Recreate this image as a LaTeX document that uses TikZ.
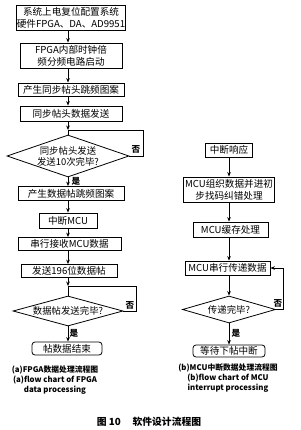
\documentclass[tikz,border=0pt]{standalone}
\usepackage{fontspec}
\newfontfamily\cjk{Noto Sans CJK SC}
\usetikzlibrary{shapes.geometric,arrows.meta}
\begin{document}
\begin{tikzpicture}[x=1pt,y=-1pt,
  box/.style={draw,line width=0.8pt,inner sep=0pt,align=center,
    font=\cjk\fontsize{9.6}{12}\selectfont},
  term/.style={box,rounded corners=3pt},
  dia/.style={draw,line width=0.8pt,diamond,inner sep=0pt,align=center,
    font=\cjk\fontsize{9.4}{11}\selectfont},
  arr/.style={-{Stealth[length=4.5pt,width=3.6pt]},line width=0.8pt},
  ln/.style={line width=0.8pt},
  lab/.style={font=\cjk\bfseries\fontsize{8.6}{10}\selectfont,inner sep=0pt},
  capt/.style={font=\cjk\bfseries\fontsize{7.8}{10}\selectfont,align=center,inner sep=0pt}
]
\useasboundingbox (0,0) rectangle (300,430);
\fill[white] (0,0) rectangle (300,430);
\coordinate (cl) at (68,0);
\coordinate (cr) at (229,0);
% ---------- left column ----------
\node[box,minimum width=104pt,minimum height=25pt] (b1) at (71,17.5) {系统上电复位配置系统\\硬件FPGA、DA、AD9951};
\node[box,minimum width=102pt,minimum height=25pt] (b2) at (71,55.5) {FPGA内部时钟倍\\频分频电路启动};
\node[box,minimum width=106pt,minimum height=13pt] (b3) at (71,89.5) {产生同步帖头跳频图案};
\node[box,minimum width=102pt,minimum height=15pt] (b4) at (71,113.5) {同步帖头数据发送};
\coordinate (m1) at (68,130);
\node[dia,minimum width=122pt,minimum height=42pt,aspect=2.9] (d1) at (68,156) {同步帖头发送\\发送10次完毕?};
\node[box,minimum width=106pt,minimum height=14pt] (b5) at (71,193.5) {产生数据帖跳频图案};
\node[box,minimum width=58pt,minimum height=15pt] (b6) at (68,220.5) {中断MCU};
\node[box,minimum width=103pt,minimum height=13pt] (b7) at (69.5,244) {串行接收MCU数据};
\node[box,minimum width=96pt,minimum height=13pt] (b8) at (69,271) {发送196位数据帖};
\coordinate (m2) at (68,286);
\node[dia,minimum width=110pt,minimum height=30pt,aspect=3.6] (d2) at (68,311) {数据帖发送完毕?};
\node[term,minimum width=70pt,minimum height=13pt] (t1) at (67,348.5) {帖数据结束};

\draw[arr] (b1.south -| cl) -- (b2.north -| cl);
\draw[arr] (b2.south -| cl) -- (b3.north -| cl);
\draw[arr] (b3.south -| cl) -- (b4.north -| cl);
\draw[arr] (b4.south -| cl) -- (m1);
\draw[ln] (m1) -- (d1.north);
\draw[ln] (d1.east) -- (143,156) -- (143,130) -- (m1);
\draw[arr] (d1.south) -- (b5.north -| cl);
\draw[arr] (b5.south -| cl) -- (b6.north);
\draw[arr] (b6.south) -- (b7.north -| cl);
\draw[arr] (b7.south -| cl) -- (b8.north -| cl);
\draw[arr] (b8.south -| cl) -- (m2);
\draw[ln] (m2) -- (d2.north);
\draw[ln] (d2.east) -- (136,311) -- (136,286) -- (m2);
\draw[arr] (d2.south) -- (t1.north -| cl);
\node[lab] (y1) at (76,181) {是};
\node[lab] (n1) at (136,149) {否};
\node[lab] (y2) at (74,333) {是};
\node[lab] (n2) at (130,305) {否};

\node[capt] (ca) at (55,380) {(a)FPGA数据处理流程图\\(a)flow chart of FPGA\\data processing};

% ---------- right column ----------
\node[box,minimum width=47pt,minimum height=14pt] (r1) at (229,150) {中断响应};
\node[box,minimum width=91pt,minimum height=25pt] (r2) at (229,189.5) {MCU组织数据并进初\\步找码纠错处理};
\node[box,minimum width=75pt,minimum height=15pt] (r3) at (230.5,229.5) {MCU缓存处理};
\node[box,minimum width=85pt,minimum height=14pt] (r4) at (227.5,268) {MCU串行传递数据};
\node[dia,minimum width=93pt,minimum height=27pt,aspect=3.4] (d3) at (229,309.5) {传递完毕?};
\node[term,minimum width=72pt,minimum height=12pt] (t2) at (229,351) {等待下帖中断};

\draw[arr] (r1.south) -- (r2.north);
\draw[arr] (r2.south) -- (r3.north -| cr);
\draw[arr] (r3.south -| cr) -- (r4.north -| cr);
\draw[arr] (r4.south -| cr) -- (d3.north);
\draw[arr] (d3.east) -- (283,309.5) |- (r4.east);
\draw[arr] (d3.south) -- (t2.north);
\node[lab] (y3) at (236,333) {是};
\node[lab] (n3) at (278,303) {否};

\node[capt] (cb) at (228,378) {(b)MCU中断数据处理流程图\\(b)flow chart of MCU\\interrupt processing};

\node[font=\cjk\bfseries\fontsize{9.8}{11}\selectfont,inner sep=0pt] (fig) at (149,422) {图 10\hspace{1.2em}软件设计流程图};
\end{tikzpicture}
\end{document}
